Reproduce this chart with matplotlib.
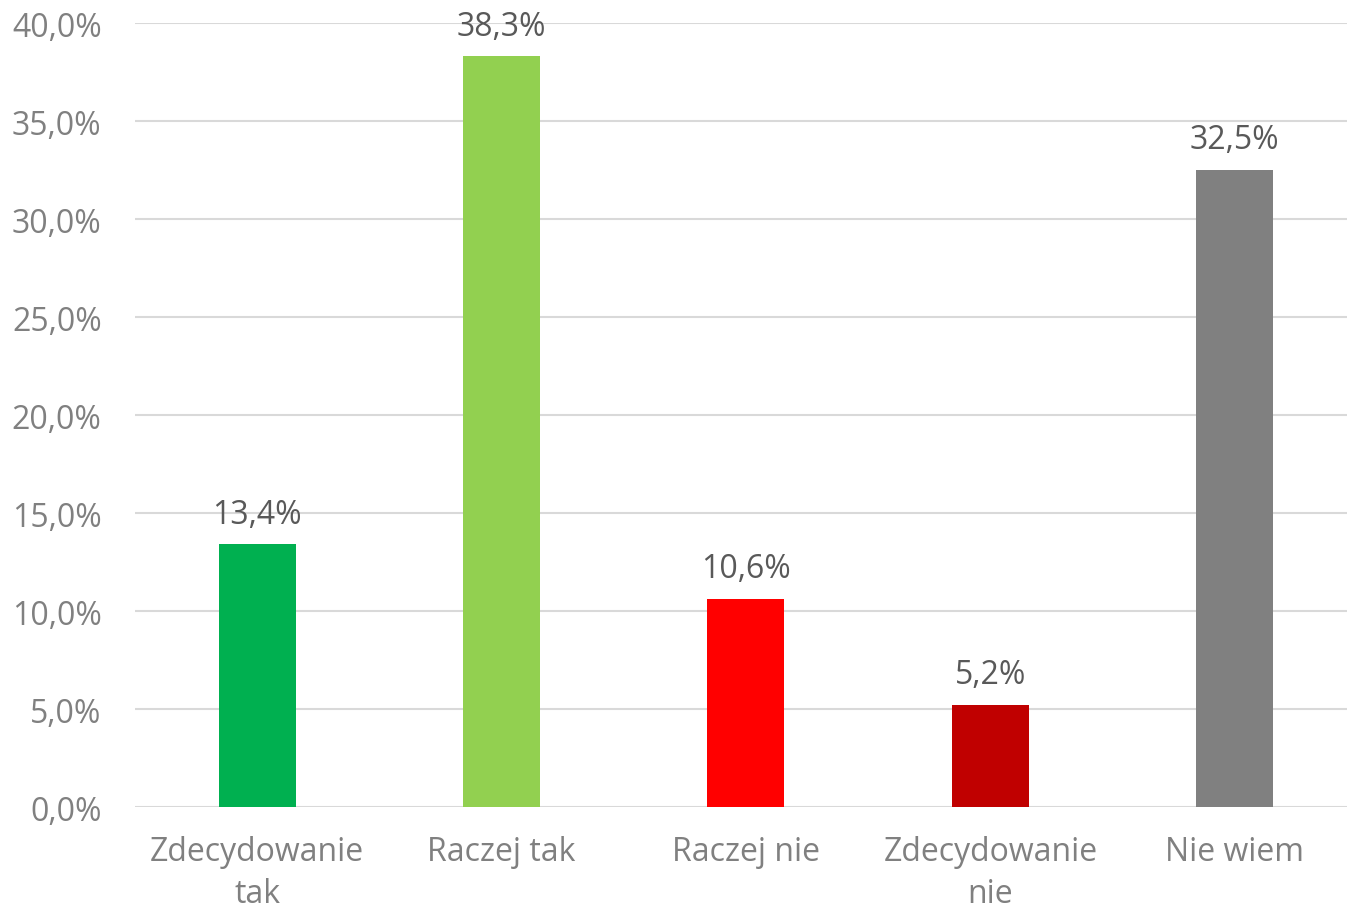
import numpy as np
import matplotlib.pyplot as plt

plt.rcParams['font.family'] = ['Open Sans', 'DejaVu Sans']

categories = ['Zdecydowanie\ntak', 'Raczej tak', 'Raczej nie',
              'Zdecydowanie\nnie', 'Nie wiem']
values = [13.4, 38.3, 10.6, 5.2, 32.5]
colors = ['#00b050', '#92d050', '#ff0000', '#c00000', '#808080']
yticks = [0, 5, 10, 15, 20, 25, 30, 35, 40]

fig = plt.figure(figsize=(13.47, 9.12), dpi=100)
# plot area runs a little past the right edge of the canvas
ax = fig.add_axes([0.1002, 0.114, 0.9072, 0.8596])

x = np.arange(len(categories))
bars = ax.bar(x, values, width=0.315, color=colors, zorder=3)

for b, v in zip(bars, values):
    label = f'{v:.1f}%'.replace('.', ',')
    ax.annotate(label, (b.get_x() + b.get_width() / 2, v),
                xytext=(0, 10), textcoords='offset points',
                ha='center', va='bottom', fontsize=23, color='#595959')

ax.set_xlim(-0.5, len(categories) - 0.5)
ax.set_ylim(0, 40)
ax.set_yticks(yticks)
ax.set_yticklabels([f'{t:.1f}%'.replace('.', ',') for t in yticks])
ax.set_xticks(x)
ax.set_xticklabels(categories, linespacing=1.36)

ax.grid(axis='y', color='#d9d9d9', linewidth=1.5, zorder=0)
ax.tick_params(axis='y', length=0, pad=24, labelsize=23, labelcolor='#808080')
ax.tick_params(axis='x', length=0, pad=20, labelsize=23, labelcolor='#808080')
for s in ax.spines.values():
    s.set_visible(False)

fig.savefig('out.png', dpi=100)
